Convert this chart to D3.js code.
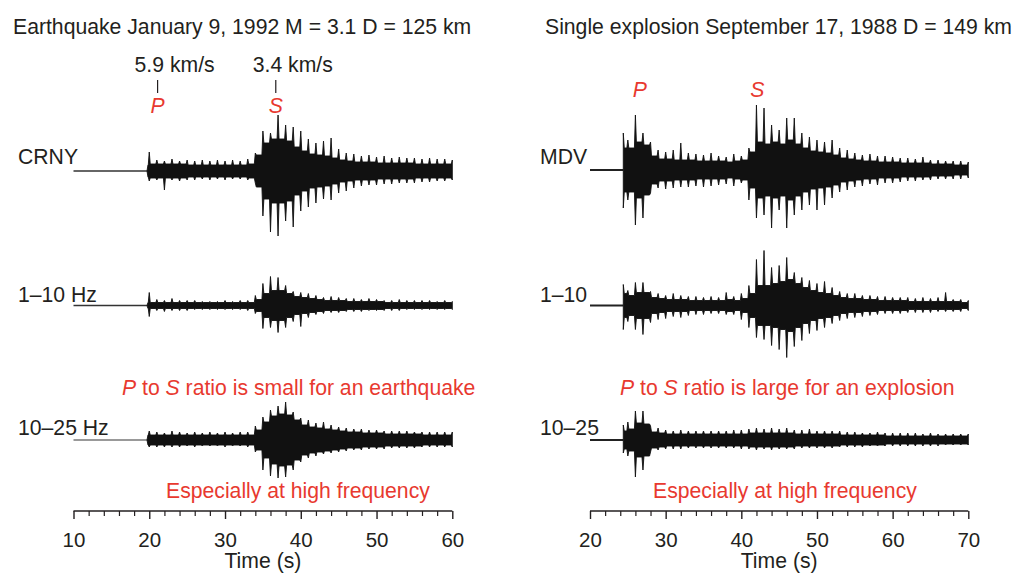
<!DOCTYPE html>
<html>
<head>
<meta charset="utf-8">
<script src="https://cdn.jsdelivr.net/npm/d3@7"></script>
<style>
  body { margin: 0; background: #fff; }
  svg text { font-family: "Liberation Sans", Arial, Helvetica, sans-serif; fill: #231f20; }
  svg text.red { fill: #e8392f; }
</style>
</head>
<body>
<svg id="chart" width="1017" height="574"></svg>
<script>
// sample times (s): onset, then one sample per second
var eqOnset = 19.7, exOnset = 24.4;
var eqTimes = [eqOnset].concat(d3.range(20, 61));
var exTimes = [exOnset].concat(d3.range(25, 71));

// peak excursion above / below the trace line in each second
var crnyUp   = [0, 19, 11, 10, 12, 10, 11, 10, 11, 10, 11, 10, 11, 10, 12, 18, 40, 38, 56, 46, 44, 40, 32, 28, 30, 33, 22, 18, 17, 15, 16, 14, 15, 13, 14, 13, 13, 12, 13, 12, 12, 11];
var crnyDown = [0, 10, 9, 19, 9, 10, 9, 9, 8, 9, 8, 9, 8, 8, 9, 12, 45, 61, 65, 50, 56, 40, 36, 32, 28, 29, 22, 20, 17, 15, 14, 14, 13, 13, 12, 12, 12, 11, 11, 10, 10, 9];
var eqLowUp   = [0, 13, 6, 5, 7, 5, 5, 5, 4, 4, 4, 5, 4, 5, 5, 10, 22, 29, 28, 20, 14, 13, 12, 10, 8, 9, 8, 7, 7, 6, 7, 6, 5, 5, 6, 5, 5, 5, 5, 4, 5, 4];
var eqLowDown = [0, 11, 5, 6, 5, 5, 5, 4, 4, 4, 4, 4, 4, 4, 5, 8, 23, 22, 27, 22, 16, 21, 12, 9, 8, 7, 7, 6, 6, 6, 5, 5, 5, 5, 5, 4, 4, 4, 4, 4, 4, 4];
var eqHighUp   = [0, 9, 8, 7, 9, 8, 7, 8, 7, 8, 7, 8, 7, 8, 8, 14, 23, 30, 34, 38, 28, 22, 20, 17, 18, 15, 13, 12, 11, 11, 10, 10, 9, 9, 9, 9, 8, 8, 8, 8, 8, 8];
var eqHighDown = [0, 7, 7, 7, 7, 7, 6, 7, 6, 6, 6, 7, 6, 6, 7, 12, 30, 36, 38, 37, 30, 22, 18, 16, 14, 13, 12, 11, 10, 10, 9, 9, 9, 8, 8, 8, 8, 7, 7, 7, 7, 7];

var mdvUp   = [37, 30, 55, 37, 28, 20, 18, 20, 27, 17, 16, 15, 17, 14, 13, 16, 14, 22, 65, 62, 45, 40, 52, 52, 37, 33, 30, 28, 30, 22, 20, 17, 15, 16, 14, 14, 13, 12, 12, 11, 13, 10, 10, 9, 9, 9, 8];
var mdvDown = [38, 30, 55, 48, 23, 18, 19, 18, 17, 17, 16, 17, 16, 15, 14, 16, 13, 30, 48, 45, 58, 40, 58, 45, 40, 35, 40, 35, 28, 22, 20, 17, 16, 14, 15, 13, 13, 12, 11, 11, 10, 10, 9, 9, 9, 9, 8];
var exLowUp   = [21, 15, 23, 23, 14, 12, 10, 12, 10, 9, 9, 8, 9, 8, 13, 9, 12, 20, 46, 55, 38, 40, 48, 33, 28, 25, 22, 24, 18, 14, 12, 12, 10, 10, 9, 9, 8, 8, 8, 7, 8, 7, 8, 13, 6, 6, 5];
var exLowDown = [24, 16, 24, 29, 17, 14, 13, 11, 12, 10, 9, 9, 8, 8, 9, 9, 14, 22, 32, 34, 40, 44, 52, 41, 35, 28, 25, 22, 18, 15, 13, 12, 11, 10, 9, 8, 8, 8, 7, 7, 7, 7, 6, 6, 6, 6, 5];
var exHighUp   = [15, 18, 29, 29, 14, 12, 10, 9, 10, 9, 9, 9, 9, 9, 9, 10, 10, 11, 12, 11, 12, 11, 12, 10, 10, 11, 9, 9, 9, 9, 8, 8, 7, 7, 8, 7, 7, 7, 7, 7, 6, 7, 6, 6, 6, 6, 6];
var exHighDown = [13, 16, 37, 30, 12, 10, 9, 9, 9, 8, 8, 8, 8, 8, 8, 8, 9, 9, 10, 9, 10, 9, 9, 9, 8, 8, 8, 8, 8, 7, 7, 7, 7, 6, 6, 6, 6, 6, 6, 6, 6, 6, 6, 5, 5, 5, 5];

// half width of the solid black band after each sample
var crnyCore   = [6, 7, 7, 7, 7, 7, 6, 6, 6, 6, 6, 6, 6, 6, 7, 16, 28, 32, 32, 30, 24, 20, 17, 16, 15, 13, 11, 10, 9, 9, 9, 8, 8, 8, 8, 8, 7, 7, 7, 7, 7, 6];
var eqLowCore  = [3, 3, 3, 3, 3, 3, 3, 3, 3, 3, 3, 3, 3, 3, 3, 6, 12, 15, 15, 12, 9, 8, 7, 6, 5, 5, 5, 4, 4, 4, 4, 4, 3, 3, 3, 3, 3, 3, 3, 3, 3, 3];
var eqHighCore = [5, 5, 5, 5, 5, 5, 5, 5, 5, 5, 5, 5, 5, 5, 5, 10, 18, 24, 26, 25, 20, 15, 13, 12, 11, 10, 9, 8, 8, 7, 7, 7, 6, 6, 6, 6, 6, 5, 5, 5, 5, 5];
var mdvCore    = [22, 22, 28, 25, 14, 11, 11, 10, 10, 10, 9, 9, 9, 9, 8, 9, 10, 18, 28, 26, 28, 26, 30, 26, 22, 19, 18, 17, 15, 12, 11, 10, 9, 9, 8, 8, 8, 7, 7, 7, 7, 6, 6, 6, 5, 5, 5];
var exLowCore  = [12, 10, 13, 13, 8, 7, 6, 6, 6, 5, 5, 5, 5, 5, 6, 5, 7, 12, 20, 20, 22, 24, 26, 22, 18, 15, 13, 12, 10, 8, 7, 7, 6, 6, 5, 5, 5, 5, 4, 4, 4, 4, 4, 4, 4, 3, 3];
var exHighCore = [9, 11, 17, 16, 8, 7, 6, 6, 6, 6, 6, 6, 6, 6, 6, 6, 6, 7, 7, 7, 7, 7, 7, 6, 6, 6, 6, 6, 6, 5, 5, 5, 5, 5, 5, 4, 4, 4, 4, 4, 4, 4, 4, 4, 4, 4, 4];

var eqDomain = [10, 60], exDomain = [20, 70];
var eqMajor = d3.range(10, 61, 10), exMajor = d3.range(20, 71, 10);
var eqPhases = [{name: 'P', t: 21.1, vel: '5.9 km/s'}, {name: 'S', t: 36.7, vel: '3.4 km/s'}];
var exPhases = [{name: 'P', t: 26.6}, {name: 'S', t: 42.1}];

var svg = d3.select('#chart');

var xEq = d3.scaleLinear().domain(eqDomain).range([73.5, 452.3]);
var xEx = d3.scaleLinear().domain(exDomain).range([590, 968.3]);

var panels = [
	{x: xEq, major: eqMajor, title: 'Earthquake January 9, 1992 M = 3.1 D = 125 km', titleX: 13,
	 phases: eqPhases, ratio: 'small for an earthquake', ratioX: 122, freqX: 166, labelX: 18,
	 traces: [
		{label: 'CRNY', base: 171, t: eqTimes, up: crnyUp, down: crnyDown, core: crnyCore, pre: [10, eqOnset], labelY: 164},
		{label: '1–10 Hz', base: 305.5, t: eqTimes, up: eqLowUp, down: eqLowDown, core: eqLowCore, pre: [10, eqOnset], labelY: 301.5},
		{label: '10–25 Hz', base: 440, t: eqTimes, up: eqHighUp, down: eqHighDown, core: eqHighCore, pre: [10, eqOnset], labelY: 435, preColor: '#777'}
	 ]},
	{x: xEx, major: exMajor, title: 'Single explosion September 17, 1988 D = 149 km', titleX: 545,
	 phases: exPhases, ratio: 'large for an explosion', ratioX: 620, freqX: 653, labelX: 540,
	 traces: [
		{label: 'MDV', base: 170, t: exTimes, up: mdvUp, down: mdvDown, core: mdvCore, pre: [20, exOnset], labelY: 164, preWidth: 2.2, preColor: '#222'},
		{label: '1–10', base: 305.5, t: exTimes, up: exLowUp, down: exLowDown, core: exLowCore, pre: [20, exOnset], labelY: 301.5, preWidth: 1.8, preColor: '#222'},
		{label: '10–25', base: 440, t: exTimes, up: exHighUp, down: exHighDown, core: exHighCore, pre: [20, exOnset], labelY: 435, preWidth: 1.8, preColor: '#222'}
	 ]}
];

var fs = 21.2;
var axisY = 511;
var spikeHalf = 0.13; // s, half width of a spike at its base

panels.forEach(function(p){
	var g = svg.append('g');

	g.append('text').attr('x', p.titleX).attr('y', 34).attr('font-size', fs).text(p.title);

	// traces
	p.traces.forEach(function(tr){
		var y = d3.scaleLinear().domain([-1, 1]).range([tr.base + 1, tr.base - 1]);

		// outline: solid band of width core, with a spike to the peak at every sample
		var pts = [];
		tr.t.forEach(function(t, i){
			if (i > 0) pts.push({t: t - spikeHalf, hi: tr.core[i - 1], lo: -tr.core[i - 1]});
			pts.push({t: t, hi: tr.up[i], lo: -tr.down[i]});
			if (i < tr.t.length - 1) pts.push({t: t + spikeHalf, hi: tr.core[i], lo: -tr.core[i]});
		});

		g.append('path')
			.attr('d', d3.line().x(function(d){ return p.x(d); }).y(y(0))(tr.pre))
			.attr('stroke', tr.preColor || '#333')
			.attr('stroke-width', tr.preWidth || 1.4)
			.attr('fill', 'none');

		var area = d3.area()
			.x(function(d){ return p.x(d.t); })
			.y0(function(d){ return y(d.lo); })
			.y1(function(d){ return y(d.hi); });

		g.append('path')
			.attr('d', area(pts))
			.attr('fill', '#111')
			.attr('stroke', '#111')
			.attr('stroke-width', 0.9)
			.attr('stroke-linejoin', 'round');

		g.append('text').attr('x', p.labelX).attr('y', tr.labelY).attr('font-size', fs).text(tr.label);
	});

	// phase picks
	p.phases.forEach(function(ph){
		var px = p.x(ph.t);
		if (ph.vel) {
			g.append('text').attr('x', px + 17).attr('y', 72).attr('text-anchor', 'middle')
				.attr('font-size', fs).text(ph.vel);
			g.append('line').attr('x1', px).attr('x2', px).attr('y1', 80).attr('y2', 93)
				.attr('stroke', '#231f20').attr('stroke-width', 1.2);
		}
		g.append('text').attr('class', 'red').attr('x', px).attr('y', ph.vel ? 113 : 96.5)
			.attr('text-anchor', 'middle').attr('font-size', fs).attr('font-style', 'italic').text(ph.name);
	});

	// annotations
	var r = g.append('text').attr('class', 'red').attr('x', p.ratioX).attr('y', 395).attr('font-size', fs);
	r.append('tspan').attr('font-style', 'italic').text('P');
	r.append('tspan').text(' to ');
	r.append('tspan').attr('font-style', 'italic').text('S');
	r.append('tspan').text(' ratio is ' + p.ratio);

	g.append('text').attr('class', 'red').attr('x', p.freqX).attr('y', 497.5).attr('font-size', fs)
		.text('Especially at high frequency');

	// time axis
	var dom = p.x.domain();
	var minor = d3.range(dom[0], dom[1] + 1, 2).filter(function(v){ return p.major.indexOf(v) < 0; });

	g.append('g').attr('transform', 'translate(0,' + axisY + ')')
		.call(d3.axisBottom(p.x).tickValues(minor).tickSize(5).tickSizeOuter(0).tickFormat(''))
		.call(function(a){ a.select('.domain').remove(); a.selectAll('line').attr('stroke', '#231f20').attr('stroke-width', 1.2); });

	var ax = g.append('g').attr('transform', 'translate(0,' + axisY + ')')
		.call(d3.axisBottom(p.x).tickValues(p.major).tickSize(8).tickSizeOuter(0).tickPadding(13));
	ax.select('.domain').attr('d', 'M' + p.x.range()[0] + ',0H' + p.x.range()[1]).attr('stroke', '#231f20').attr('stroke-width', 1.4);
	ax.selectAll('line').attr('stroke', '#231f20').attr('stroke-width', 1.4);
	ax.selectAll('text').attr('font-size', 20.5).attr('font-family', '"Liberation Sans", Arial, sans-serif').attr('fill', '#231f20');

	g.append('text').attr('x', (p.x.range()[0] + p.x.range()[1]) / 2).attr('y', 568)
		.attr('text-anchor', 'middle').attr('font-size', fs).text('Time (s)');
});
</script>
</body>
</html>
